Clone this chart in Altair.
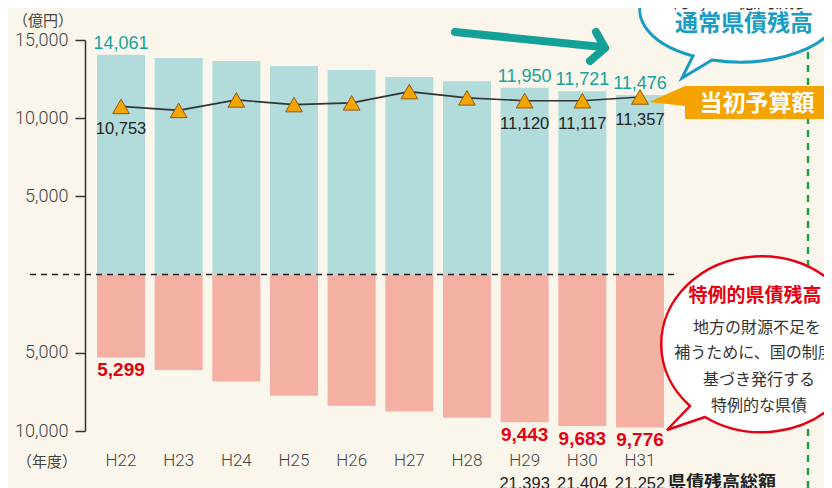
import altair as alt
import pandas as pd

# ---- data ----
years = ["H22", "H23", "H24", "H25", "H26", "H27", "H28", "H29", "H30", "H31"]
ordinary = [14061, 13850, 13650, 13330, 13080, 12630, 12370, 11950, 11721, 11476]   # 通常県債残高
special = [5299, 6100, 6840, 7740, 8380, 8760, 9150, 9443, 9683, 9776]              # 特例的県債残高
budget = [10753, 10500, 11170, 10870, 10980, 11700, 11300, 11120, 11117, 11357]     # 当初予算額
labeled_years = ["H22", "H29", "H30", "H31"]
total_years = ["H29", "H30", "H31"]
totals = [21393, 21404, 21252]                                                      # 県債残高総額
y_ticks = [-10000, -5000, 5000, 10000, 15000]

df = pd.DataFrame({
    "year": years,
    "ordinary": ordinary,
    "special_neg": [-v for v in special],
    "special": special,
    "budget": budget,
})
df_lab = df[df["year"].isin(labeled_years)]
tot_df = pd.DataFrame({"year": total_years, "total": totals})
one = pd.DataFrame({"k": [0]})

BG = "#fbf6ec"
JP = "Noto Sans CJK JP"
NUM = "Liberation Sans, sans-serif"
AX = "Roboto, Liberation Sans, sans-serif"

yscale = alt.Scale(domain=[-10000, 15000], nice=False, zero=False)
yaxis = alt.Axis(values=y_ticks, labelExpr="format(abs(datum.value), ',')", title=None,
                 grid=False, domainColor="#333", domainWidth=1.5, tickColor="#333",
                 tickWidth=1.5, tickSize=10, labelPadding=7, labelFontSize=18,
                 labelColor="#444", labelFont=AX, labelFontWeight=300)
xaxis = alt.Axis(title=None, domain=False, ticks=False, labelAngle=0, labelPadding=21,
                 labelFontSize=17, labelColor="#444", labelFont=AX, labelFontWeight=300)
xenc = alt.X("year:N", sort=years, axis=xaxis,
             scale=alt.Scale(paddingInner=0.167, paddingOuter=0.208))

def Y(field):
    return alt.Y(field, type="quantitative", scale=yscale, axis=yaxis)

base = alt.Chart(df)

green = alt.Chart(one).mark_rule(color="#1f9f45", strokeWidth=2.5, strokeDash=[7, 6]).encode(
    x=alt.value(723), y=alt.value(-40), y2=alt.value(450))

bars_up = base.mark_bar(color="#b2dcdc").encode(x=xenc, y=Y("ordinary"))
bars_dn = base.mark_bar(color="#f4b0a2").encode(x=xenc, y=Y("special_neg"))

zero = alt.Chart(pd.DataFrame({"z": [0]})).mark_rule(
    color="#222", strokeWidth=1.5, strokeDash=[6, 5]).encode(
    y=Y("z"), x=alt.value(-55), x2=alt.value(591))

line = base.mark_line(color="#333", strokeWidth=1.6).encode(x=xenc, y=Y("budget"))
tri = base.mark_point(shape="triangle-up", filled=True, fill="#f5a500", stroke="#95560a",
                      strokeWidth=1, size=280, opacity=1).encode(x=xenc, y=Y("budget"))

lab = alt.Chart(df_lab)
up_txt = lab.mark_text(baseline="alphabetic", dy=-6, fontSize=18, font=NUM, color="#14a39a").encode(
    x=xenc, y=Y("ordinary"), text=alt.Text("ordinary:Q", format=","))
dn_txt = lab.mark_text(baseline="alphabetic", dy=19, fontSize=19, font=NUM, fontWeight="bold",
                       color="#e60012").encode(
    x=xenc, y=Y("special_neg"), text=alt.Text("special:Q", format=","))
bd_txt = lab.mark_text(baseline="alphabetic", dy=28, fontSize=16.5, font=NUM, color="#222").encode(
    x=xenc, y=Y("budget"), text=alt.Text("budget:Q", format=","))

tot_txt = alt.Chart(tot_df).mark_text(baseline="alphabetic", fontSize=16.5, font=NUM, color="#222").encode(
    x=xenc, y=alt.value(449), text=alt.Text("total:Q", format=","))

def label(text, x, y, size, color="#333", weight="normal", align="center", font=JP):
    return alt.Chart(pd.DataFrame({"t": [text]})).mark_text(
        fontSize=size, color=color, fontWeight=weight, align=align, baseline="middle", font=font
    ).encode(x=alt.value(x), y=alt.value(y), text="t:N")

tot_title = alt.Chart(pd.DataFrame({"t": ["県債残高総額"]})).mark_text(
    fontSize=18, color="#222", fontWeight="bold", align="left", baseline="alphabetic", font=JP
).encode(x=alt.value(583), y=alt.value(449), text="t:N")

# teal arrow
ARROW = "#13a096"
def seg(x1, y1, x2, y2):
    return alt.Chart(one).mark_rule(color=ARROW, strokeWidth=8, strokeCap="round").encode(
        x=alt.value(x1), y=alt.value(y1), x2=alt.value(x2), y2=alt.value(y2))
arrow = [seg(370, -8, 517, 7), seg(520, 8, 511, -8), seg(520, 8, 505, 21)]

def shape(path, x, y, fill, stroke=None, sw=0):
    kw = dict(shape=path, size=4, filled=True, fill=fill, opacity=1, strokeWidth=sw)
    if stroke:
        kw["stroke"] = stroke
    return alt.Chart(one).mark_point(**kw).encode(x=alt.value(x), y=alt.value(y))

teal_bubble = shape("M -28 50 L -58 68 L -47 46 A 100 52 0 1 1 -28 50 Z", 655, -30,
                    "#ffffff", "#1a9cc2", 3)
red_bubble = shape("M -57 72 L -95 85 L -72 61 A 100 88 0 1 1 -57 72 Z", 677, 305,
                   "#ffffff", "#e60012", 2.5)
orange_box = shape("M 0 -16 L 160 -16 L 160 17 L 0 17 L 0 4 L -36 0 Z", 600, 62, "#f5a300")

texts = [
    label("（億円）", -42, -19, 15, "#444"),
    label("（年度）", -38, 422, 15, "#444"),
    label("約2,800億円減少!", 660, -38, 19, "#333"),
    label("通常県債残高", 659, -16, 23, "#1a9cc4", "bold"),
    label("当初予算額", 672, 64, 23, "#ffffff", "bold"),
    label("特例的県債残高", 670, 256, 19, "#e60012", "bold"),
    label("地方の財源不足を", 672, 288, 16),
    label("補うために、国の制度に", 677, 313, 16),
    label("基づき発行する", 674, 340, 16),
    label("特例的な県債", 674, 366, 16),
]

chart = alt.layer(
    green, bars_up, bars_dn, zero, line, tri, up_txt, dn_txt, bd_txt, tot_txt, tot_title,
    *arrow, teal_bubble, red_bubble, orange_box, *texts
).properties(
    width=591, height=391,
    padding={"left": 77, "top": 32, "right": 148, "bottom": 57},
    autosize=alt.AutoSizeParams(type="none"),
    background=BG,
).configure_view(stroke=None)

chart.save("out.html", embed_options={"renderer": "svg", "actions": False})
